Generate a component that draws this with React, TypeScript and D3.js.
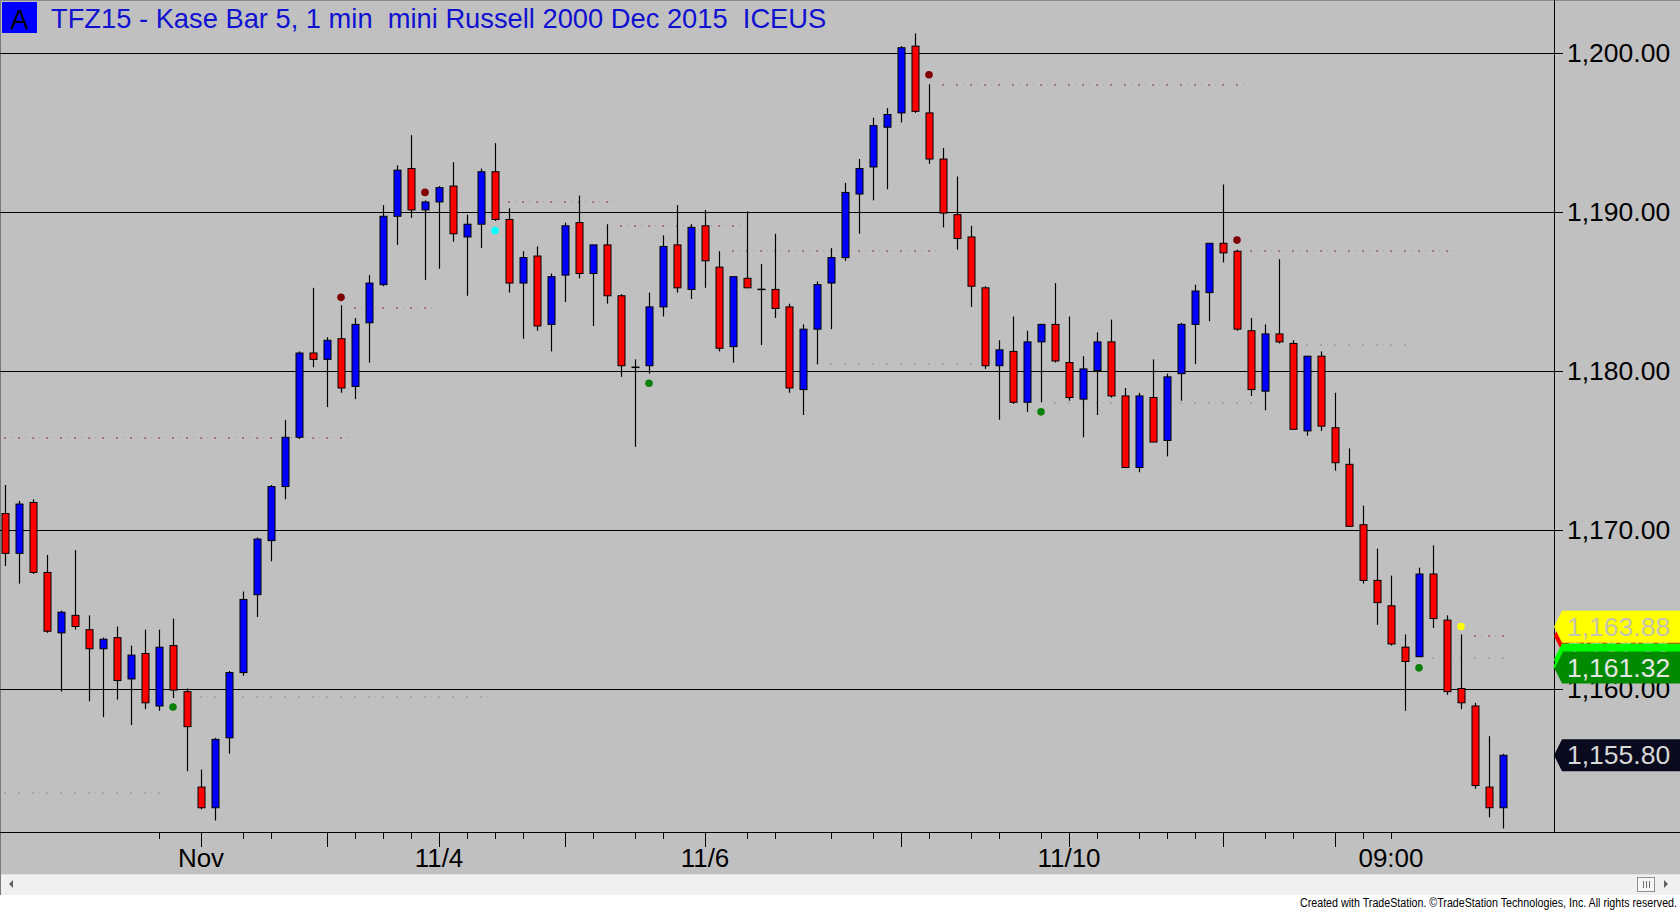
import React from 'react';
import * as d3 from 'd3';

// ---- data ----
const opens = [
  1171.0, 1168.5, 1171.7, 1167.3, 1163.5, 1164.6, 1163.7, 1162.5, 1163.2, 1160.6,
  1162.2, 1158.9, 1162.7, 1159.8, 1153.8, 1152.5, 1156.9, 1161.0, 1165.9, 1169.3,
  1172.7, 1175.8, 1181.1, 1180.7, 1182.0, 1179.0, 1183.0, 1185.4, 1189.7, 1192.7,
  1190.1, 1190.6, 1191.6, 1188.4, 1189.2, 1192.5, 1189.5, 1185.5, 1187.2, 1182.9,
  1186.0, 1189.3, 1186.1, 1187.9, 1184.7, 1180.2, 1180.3, 1184.0, 1187.9, 1185.1,
  1189.1, 1186.5, 1181.5, 1185.8, 1185.1, 1185.1, 1184.0, 1178.8, 1182.6, 1185.5,
  1187.1, 1191.1, 1192.8, 1195.3, 1196.2, 1200.4, 1196.2, 1193.3, 1189.8, 1188.4,
  1185.2, 1180.3, 1181.2, 1178.0, 1181.8, 1182.9, 1180.5, 1178.2, 1180.0, 1181.8,
  1178.4, 1173.9, 1178.3, 1175.6, 1179.8, 1182.9, 1184.9, 1188.0, 1187.5, 1182.5,
  1178.7, 1182.3, 1181.7, 1176.2, 1180.9, 1176.4, 1174.1, 1170.3, 1166.8, 1165.2,
  1162.6, 1162.0, 1167.2, 1164.3, 1160.0, 1158.9, 1153.8, 1152.5,
];
const highs = [
  1172.8, 1171.8, 1171.9, 1168.4, 1164.9, 1168.7, 1164.6, 1163.2, 1163.9, 1162.7,
  1163.7, 1163.7, 1164.4, 1160.0, 1154.9, 1156.9, 1161.1, 1166.1, 1169.5, 1172.8,
  1176.9, 1181.2, 1185.2, 1182.1, 1184.1, 1183.3, 1186.0, 1190.4, 1192.9, 1194.8,
  1190.7, 1191.6, 1193.1, 1189.8, 1192.7, 1194.3, 1190.2, 1187.5, 1187.8, 1186.1,
  1189.3, 1191.0, 1187.9, 1189.2, 1184.8, 1180.7, 1184.9, 1188.5, 1190.4, 1189.2,
  1190.1, 1187.5, 1185.9, 1190.0, 1186.7, 1188.6, 1184.2, 1182.9, 1185.6, 1187.7,
  1191.8, 1193.3, 1195.9, 1196.5, 1200.4, 1201.2, 1198.0, 1194.0, 1192.2, 1189.1,
  1185.3, 1181.9, 1183.4, 1182.5, 1182.9, 1185.5, 1183.4, 1180.9, 1182.4, 1183.2,
  1178.9, 1178.6, 1180.7, 1179.8, 1183.0, 1185.4, 1188.0, 1191.7, 1187.6, 1183.3,
  1182.9, 1187.0, 1181.9, 1180.9, 1181.2, 1178.6, 1175.1, 1171.5, 1168.8, 1167.1,
  1163.4, 1167.6, 1169.0, 1164.6, 1163.4, 1159.1, 1157.0, 1155.9,
];
const lows = [
  1167.7, 1166.6, 1167.2, 1163.5, 1159.8, 1163.7, 1159.2, 1158.2, 1159.3, 1157.7,
  1158.7, 1158.6, 1159.4, 1154.8, 1152.4, 1151.7, 1155.9, 1160.8, 1164.5, 1168.0,
  1171.9, 1175.7, 1180.2, 1177.7, 1178.6, 1178.2, 1180.5, 1185.3, 1187.9, 1189.6,
  1185.7, 1186.4, 1188.1, 1184.7, 1187.7, 1189.4, 1184.9, 1182.0, 1182.5, 1181.2,
  1184.3, 1185.8, 1182.8, 1184.2, 1179.6, 1175.2, 1179.8, 1183.4, 1184.9, 1184.5,
  1185.2, 1181.2, 1180.5, 1185.2, 1181.6, 1183.3, 1178.6, 1177.2, 1180.4, 1182.6,
  1186.9, 1188.6, 1190.7, 1191.4, 1195.6, 1196.2, 1193.0, 1189.0, 1187.6, 1184.0,
  1180.1, 1176.9, 1177.9, 1177.4, 1178.0, 1180.5, 1178.1, 1175.8, 1177.2, 1178.3,
  1173.9, 1173.6, 1175.5, 1174.6, 1178.1, 1180.4, 1183.1, 1186.8, 1182.5, 1178.4,
  1177.5, 1181.7, 1176.3, 1175.9, 1176.2, 1173.7, 1170.2, 1166.6, 1164.0, 1162.7,
  1158.6, 1162.0, 1163.8, 1159.6, 1158.7, 1153.7, 1151.9, 1151.2,
];
const closes = [
  1168.5, 1171.6, 1167.3, 1163.6, 1164.8, 1163.9, 1162.5, 1163.1, 1160.5, 1162.1,
  1159.1, 1162.6, 1159.9, 1157.6, 1152.5, 1156.8, 1161.0, 1165.6, 1169.4, 1172.7,
  1175.8, 1181.1, 1180.7, 1181.9, 1178.9, 1182.9, 1185.5, 1189.7, 1192.6, 1190.1,
  1190.6, 1191.5, 1188.6, 1189.2, 1192.5, 1189.5, 1185.5, 1187.1, 1182.8, 1185.9,
  1189.1, 1186.1, 1187.9, 1184.7, 1180.3, 1180.2, 1184.0, 1187.8, 1185.2, 1189.0,
  1186.9, 1181.4, 1185.9, 1185.2, 1185.1, 1183.9, 1178.9, 1182.6, 1185.4, 1187.1,
  1191.2, 1192.7, 1195.4, 1196.1, 1200.3, 1196.3, 1193.3, 1189.9, 1188.3, 1185.3,
  1180.3, 1181.3, 1178.0, 1181.8, 1182.9, 1180.6, 1178.3, 1180.1, 1181.8, 1178.4,
  1173.9, 1178.4, 1175.5, 1179.6, 1182.9, 1185.0, 1188.0, 1187.4, 1182.6, 1178.8,
  1182.3, 1181.8, 1176.3, 1180.9, 1176.5, 1174.2, 1170.2, 1166.8, 1165.4, 1162.8,
  1161.7, 1167.2, 1164.4, 1159.8, 1159.1, 1153.9, 1152.5, 1155.8,
];

const priceTicks = [1160, 1170, 1180, 1190, 1200];

// time axis (1-based bar numbers)
const shortTickBars = [12, 18, 20, 26, 28, 30, 34, 36, 38, 43, 46, 48, 54, 56, 60, 63, 67, 70, 72, 75, 79, 82, 84, 86, 91, 93, 98, 100];
const longTickBars = [15, 24, 32, 41, 51, 65, 77, 88, 96];
const timeLabelBars = [15, 32, 51, 77, 100];
const timeLabels = ['Nov', '11/4', '11/6', '11/10', '09:00'];

// Kase signal dots
const signalBars = [13, 25, 31, 36, 47, 67, 75, 89, 102, 105];
const signalPrices = [1158.84, 1184.6, 1191.2, 1188.8, 1179.2, 1198.6, 1177.4, 1188.2, 1161.3, 1163.9];
const signalKinds = ['buy', 'sell', 'sell', 'warn', 'buy', 'sell', 'buy', 'sell', 'buy', 'alert'];

// faint dotted levels
const levelPrices = [1175.8, 1153.5, 1159.5, 1184.0, 1190.65, 1189.16, 1187.58, 1198.05, 1180.5, 1178.0, 1187.57, 1181.65, 1163.35, 1161.96];
const levelFrom = [1, 1, 14, 26, 37, 45, 53, 68, 59, 76, 89, 94, 106, 103];
const levelTo = [25, 12, 35, 31, 44, 53, 67, 89, 72, 90, 104, 101, 108, 108];
const levelKinds = ['r', 'g', 'g', 'r', 'r', 'r', 'r', 'r', 'g', 'g', 'r', 'g', 'r', 'g'];

// right-side value tags
const tagValues = [1163.3, 1161.82, 1161.32, 1163.88, 1155.8];
const tagKinds = ['red', 'lime', 'green', 'yellow', 'last'];

const W = 1680;
const H = 910;
const AXIS_X = 1554;
const PLOT_BOTTOM = 832;
const FONT = '"Liberation Sans", Arial, sans-serif';

const fmt = d3.format(',.2f');

export default function App() {
  const n = opens.length;
  const x = d3.scaleLinear().domain([0, n - 1]).range([5, 5 + 14 * (n - 1)]);
  const y = d3.scaleLinear().domain([1160, 1200]).range([688.5, 52.5]);
  const bodyW = 7;

  const signalColor: Record<string, string> = {
    buy: '#0a800a',
    sell: '#800000',
    warn: '#00ffff',
    alert: '#ffff00',
  };
  const levelColor: Record<string, string> = { r: '#a07a7a', g: '#9aae9a' };
  const tagFill: Record<string, string> = {
    red: '#ff0000',
    lime: '#00ff00',
    green: '#008a00',
    yellow: '#ffff00',
    last: '#0a0a1e',
  };
  const tagText: Record<string, string> = {
    red: '#ffd0d0',
    lime: '#c8f0c8',
    green: '#e6e6e6',
    yellow: '#c4c4b0',
    last: '#d8d8d8',
  };

  const tagPath = (v: number) => {
    const c = y(v);
    return `M${AXIS_X},${c} L${AXIS_X + 8},${c - 16} L${W},${c - 16} L${W},${c + 16} L${AXIS_X + 8},${c + 16} Z`;
  };

  return (
    <div style={{ position: 'fixed', left: 0, top: 0, width: W, height: H, background: '#fff' }}>
      <svg width={W} height={H} style={{ display: 'block' }} fontFamily={FONT}>
        <defs>
          <clipPath id="plot">
            <rect x={0} y={0} width={AXIS_X} height={PLOT_BOTTOM} />
          </clipPath>
        </defs>
        <rect x={0} y={0} width={W} height={874} fill="#c0c0c0" />
        {/* scrollbar */}
        <rect x={0} y={874} width={W} height={21} fill="#f0f0f0" />
        <line x1={0} x2={W} y1={874.5} y2={874.5} stroke="#e0e0e0" />
        <path d="M13,880 L9,884 L13,888 Z" fill="#606060" />
        <rect x={1637.5} y={877.5} width={17} height={14} fill="#f6f6f6" stroke="#909090" />
        {[1643, 1646, 1649].map((gx) => (
          <line key={gx} x1={gx + 0.5} x2={gx + 0.5} y1={881} y2={888} stroke="#707070" />
        ))}
        <path d="M1664,880 L1668,884 L1664,888 Z" fill="#606060" />
        <rect x={0} y={895} width={W} height={15} fill="#ffffff" />
        <text
          x={1677}
          y={906.5}
          fontSize={12}
          textAnchor="end"
          fill="#000"
          textLength={377}
          lengthAdjust="spacingAndGlyphs"
        >
          Created with TradeStation. ©TradeStation Technologies, Inc. All rights reserved.
        </text>

        {/* frame */}
        <line x1={0.5} x2={0.5} y1={0} y2={895} stroke="#7a7a7a" />
        <line x1={0} x2={W} y1={0.5} y2={0.5} stroke="#8a8a8a" />

        {/* gridlines */}
        {priceTicks.map((p) => (
          <line key={p} x1={0} x2={1563} y1={Math.round(y(p)) + 0.5} y2={Math.round(y(p)) + 0.5} stroke="#000" strokeWidth={1} />
        ))}

        {/* dotted levels */}
        <g clipPath="url(#plot)">
          {levelPrices.map((p, li) => {
            const dots = [];
            for (let b = levelFrom[li]; b <= levelTo[li]; b++) {
              const cx = x(b - 1);
              dots.push(
                <rect key={`a${b}`} x={cx - 1} y={Math.round(y(p))} width={2} height={2} fill={levelColor[levelKinds[li]]} />,
                <rect key={`b${b}`} x={cx + 6} y={Math.round(y(p))} width={1} height={1} fill={levelColor[levelKinds[li]]} opacity={0.7} />
              );
            }
            return <g key={li}>{dots}</g>;
          })}
        </g>

        {/* candles */}
        <g clipPath="url(#plot)">
          {opens.map((o, i) => {
            const c = closes[i];
            const cx = Math.round(x(i)) + 0.5;
            const top = y(Math.max(o, c));
            const bot = y(Math.min(o, c));
            const up = c > o;
            const doji = Math.abs(c - o) < 0.05;
            return (
              <g key={i}>
                <line x1={cx} x2={cx} y1={y(highs[i])} y2={y(lows[i])} stroke="#000" strokeWidth={1.2} />
                {doji ? (
                  <line x1={cx - 4} x2={cx + 4} y1={top} y2={top} stroke="#000" strokeWidth={1.5} />
                ) : (
                  <rect
                    x={cx - bodyW / 2}
                    y={top}
                    width={bodyW}
                    height={Math.max(1, bot - top)}
                    fill={up ? '#0000ff' : '#ff0000'}
                    stroke="#000"
                    strokeWidth={1}
                  />
                )}
              </g>
            );
          })}
        </g>

        {/* signal dots */}
        {signalBars.map((b, i) => (
          <circle key={i} cx={x(b - 1)} cy={y(signalPrices[i])} r={3.8} fill={signalColor[signalKinds[i]]} />
        ))}

        {/* axes */}
        <line x1={AXIS_X + 0.5} x2={AXIS_X + 0.5} y1={0} y2={PLOT_BOTTOM} stroke="#000" />
        <line x1={0} x2={W} y1={PLOT_BOTTOM + 0.5} y2={PLOT_BOTTOM + 0.5} stroke="#000" />

        {priceTicks.map((p) => (
          <text key={p} x={1567} y={y(p) + 9} fontSize={26.5} fill="#000">
            {fmt(p)}
          </text>
        ))}

        {shortTickBars.map((b) => (
          <line key={`s${b}`} x1={Math.round(x(b - 1)) + 0.5} x2={Math.round(x(b - 1)) + 0.5} y1={PLOT_BOTTOM} y2={PLOT_BOTTOM + 7} stroke="#000" />
        ))}
        {longTickBars.map((b) => (
          <line key={`l${b}`} x1={Math.round(x(b - 1)) + 0.5} x2={Math.round(x(b - 1)) + 0.5} y1={PLOT_BOTTOM} y2={PLOT_BOTTOM + 15} stroke="#000" />
        ))}
        {timeLabelBars.map((b, i) => (
          <text key={`t${b}`} x={x(b - 1)} y={867} fontSize={26} textAnchor="middle" fill="#000">
            {timeLabels[i]}
          </text>
        ))}

        {/* value tags */}
        {tagValues.map((v, i) => (
          <g key={`tag${i}`}>
            <path d={tagPath(v)} fill={tagFill[tagKinds[i]]} />
            {tagKinds[i] === 'green' && (
              <path
                d={`M${AXIS_X + 8},${y(v) - 16} L${AXIS_X},${y(v)}`}
                stroke="#00ff00"
                strokeWidth={2}
              />
            )}
            <text x={1567} y={y(v) + 9} fontSize={26.5} fill={tagText[tagKinds[i]]}>
              {fmt(v)}
            </text>
          </g>
        ))}

        {/* title */}
        <rect x={2} y={2} width={35} height={31} fill="#0000ff" />
        <text x={19.5} y={29} fontSize={27} textAnchor="middle" fill="#000">
          A
        </text>
        <text x={51} y={28} fontSize={27.3} fill="#1010d0" style={{ whiteSpace: 'pre' }} xmlSpace="preserve">
          TFZ15 - Kase Bar 5, 1 min  mini Russell 2000 Dec 2015  ICEUS
        </text>
      </svg>
    </div>
  );
}
